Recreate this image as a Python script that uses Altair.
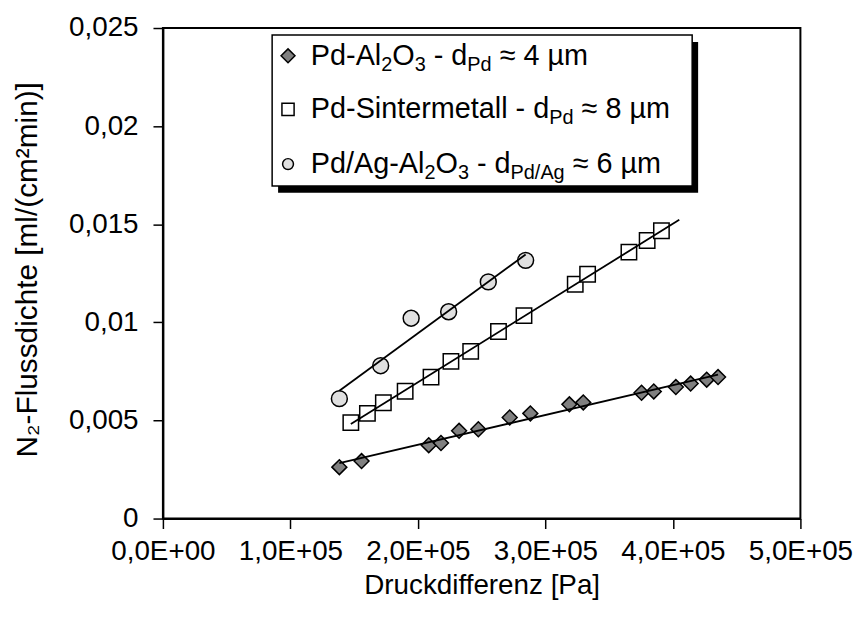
import altair as alt
import pandas as pd

# ---------------- data ----------------
pd_al_x = [138400, 155800, 208500, 218100, 232300, 247400, 272000, 288200,
           318800, 329700, 375400, 385000, 402300, 413900, 426500, 435400]
pd_al_y = [0.00262, 0.00293, 0.00374, 0.00385, 0.00447, 0.00455, 0.00515, 0.00536,
           0.00582, 0.00592, 0.00641, 0.00648, 0.00670, 0.00688, 0.00708, 0.00721]

sinter_x = [147400, 160400, 172900, 190000, 210300, 225900, 241400, 263200,
            283200, 323400, 333100, 365500, 379800, 391000]
sinter_y = [0.00489, 0.00536, 0.00590, 0.00649, 0.00721, 0.00801, 0.00852, 0.00953,
            0.01034, 0.01194, 0.01245, 0.01358, 0.01417, 0.01467]

pdag_x = [138400, 170800, 194700, 224100, 255200, 284500]
pdag_y = [0.00611, 0.00779, 0.01021, 0.01054, 0.01206, 0.01316]

series_names = ["Pd-Al2O3", "Pd-Sintermetall", "Pd/Ag-Al2O3"]
trend_extents = [[138400, 435400], [147400, 405000], [138400, 284500]]

y_ticks = [0, 0.005, 0.01, 0.015, 0.02, 0.025]
x_ticks = [0, 100000, 200000, 300000, 400000, 500000]
x_tick_labels = ["0,0E+00", "1,0E+05", "2,0E+05", "3,0E+05", "4,0E+05", "5,0E+05"]

x_title = "Druckdifferenz [Pa]"
y_title = "N\u2082-Flussdichte [ml/(cm\u00b2min)]"

# legend rows: list of (text, is_subscript)
legend_rows = [
    [("Pd-Al", 0), ("2", 1), ("O", 0), ("3", 1), (" - d", 0), ("Pd", 1), (" \u2248 4 \u00b5m", 0)],
    [("Pd-Sintermetall - d", 0), ("Pd", 1), (" \u2248 8 \u00b5m", 0)],
    [("Pd/Ag-Al", 0), ("2", 1), ("O", 0), ("3", 1), (" - d", 0), ("Pd/Ag", 1), (" \u2248 6 \u00b5m", 0)],
]

FONT = "Liberation Sans"
FS = 28
LEG_FS = 29
SUB_FS = 20

# ---------------- tables ----------------
rows = []
for name, xs, ys in zip(series_names, [pd_al_x, sinter_x, pdag_x], [pd_al_y, sinter_y, pdag_y]):
    for a, b in zip(xs, ys):
        rows.append({"series": name, "x": a, "y": b})
df = pd.DataFrame(rows)

# Arial / Liberation Sans advance widths (per 1000 em) for legend layout
W = {' ': 278, '-': 333, '/': 278, '2': 556, '3': 556, '4': 556, '6': 556,
     '8': 556, 'A': 667, 'O': 778, 'P': 667, 'S': 667, 'a': 556, 'd': 556, 'e': 556,
     'g': 556, 'i': 222, 'l': 222, 'm': 833, 'n': 556, 'r': 333, 't': 278,
     '\u00b5': 576, '\u2248': 584}


def tw(s, size):
    return sum(W.get(c, 556) for c in s) * size / 1000.0


legend_x0 = 149        # text start (plot coords)
legend_base = [37, 91, 146]
legend_mark_x = 126
legend_mark_y = [28, 82, 137]
seg_rows = []
for base, segs in zip(legend_base, legend_rows):
    cx = legend_x0
    for txt, sub in segs:
        size = SUB_FS if sub else LEG_FS
        lead = len(txt) - len(txt.lstrip(" "))
        body = txt.lstrip(" ")
        cx += tw(" " * lead, size)
        seg_rows.append({"t": body, "px": cx, "py": base + (6 if sub else 0), "fs": size})
        cx += tw(body, size)
seg_df = pd.DataFrame(seg_rows)

# ---------------- chart ----------------
x_enc = alt.X("x:Q", scale=alt.Scale(domain=[0, 500000], nice=False),
              axis=alt.Axis(values=x_ticks, title=x_title,
                            labelExpr="[" + ",".join("'%s'" % s for s in x_tick_labels) + "][round(datum.value/100000)]",
                            labelPadding=9, titleX=321, titleY=67, titleBaseline="middle",
                            titleAlign="center", titleFontSize=28))
y_enc = alt.Y("y:Q", scale=alt.Scale(domain=[0, 0.025], nice=False),
              axis=alt.Axis(values=y_ticks, title=y_title,
                            labelExpr="datum.value == 0 ? '0' : replace(toString(datum.value), '.', ',')",
                            labelPadding=15, titleX=-136, titleY=243, titleAngle=-90,
                            titleBaseline="middle", titleAlign="center", titleFontSize=30))

points = alt.Chart(df).mark_point(filled=True, stroke="black", strokeWidth=1.5, opacity=1).encode(
    x=x_enc, y=y_enc,
    shape=alt.Shape("series:N", scale=alt.Scale(domain=series_names, range=["diamond", "square", "circle"]), legend=None),
    fill=alt.Fill("series:N", scale=alt.Scale(domain=series_names, range=["#808080", "#ffffff", "#e0e0e0"]), legend=None),
    size=alt.Size("series:N", scale=alt.Scale(domain=series_names, range=[225, 256, 201]), legend=None),
)

lines = []
for name, ext in zip(series_names, trend_extents):
    lines.append(
        alt.Chart(df).transform_filter(alt.datum.series == name)
        .transform_regression("x", "y", extent=ext)
        .mark_line(color="black", strokeWidth=1.8)
        .encode(x="x:Q", y="y:Q")
    )

one = pd.DataFrame({"k": [0]})
shadow = alt.Chart(one).mark_rect(color="black").encode(
    x=alt.value(116), x2=alt.value(539), y=alt.value(14), y2=alt.value(166))
box = alt.Chart(one).mark_rect(fill="white", stroke="black", strokeWidth=1.5).encode(
    x=alt.value(110), x2=alt.value(533), y=alt.value(7), y2=alt.value(159))

leg_marks = [
    alt.Chart(one).mark_point(shape="diamond", filled=True, fill="#808080", stroke="black",
                              strokeWidth=1.5, size=196, opacity=1)
    .encode(x=alt.value(legend_mark_x), y=alt.value(legend_mark_y[0])),
    alt.Chart(one).mark_point(shape="square", filled=True, fill="white", stroke="black",
                              strokeWidth=1.5, size=150, opacity=1)
    .encode(x=alt.value(legend_mark_x), y=alt.value(legend_mark_y[1])),
    alt.Chart(one).mark_point(shape="circle", filled=True, fill="#e0e0e0", stroke="black",
                              strokeWidth=1.5, size=120, opacity=1)
    .encode(x=alt.value(legend_mark_x), y=alt.value(legend_mark_y[2])),
]

leg_text = alt.Chart(seg_df).mark_text(align="left", baseline="alphabetic", font=FONT, color="black").encode(
    x=alt.X("px:Q", scale=None), y=alt.Y("py:Q", scale=None),
    text="t:N", size=alt.Size("fs:Q", scale=None, legend=None))

chart = alt.layer(points, *lines, shadow, box, *leg_marks, leg_text).properties(
    width=642, height=494,
    autosize=alt.AutoSizeParams(type="none"),
    padding={"left": 156, "top": 18, "right": 58, "bottom": 100},
    background="white",
).configure_view(stroke="black", strokeWidth=2).configure_axis(
    grid=False, domainColor="black", domainWidth=2, tickColor="black", tickWidth=1.5,
    tickSize=10, labelFont=FONT, labelFontSize=FS, labelColor="black",
    titleFont=FONT, titleFontSize=FS, titleFontWeight="normal", titleColor="black",
    labelOverlap=False, labelFlush=False,
)

chart.save("out.html", embed_options={"renderer": "svg", "actions": False})
